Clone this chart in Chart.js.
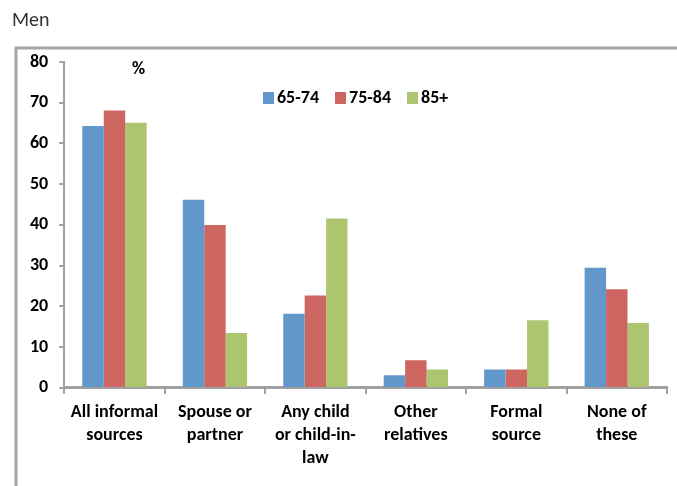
<!DOCTYPE html>
<html>
<head>
<meta charset="utf-8">
<script src="https://cdn.jsdelivr.net/npm/chart.js@4/dist/chart.umd.min.js"></script>
<style>
html,body{margin:0;padding:0;background:#fff;}
#wrap{position:relative;width:677px;height:486px;}
canvas{display:block;}
</style>
</head>
<body>
<div id="wrap"><canvas id="c" width="677" height="486"></canvas></div>
<script>
const categories = [
  ["All informal","sources"],
  ["Spouse or","partner"],
  ["Any child","or child-in-","law"],
  ["Other","relatives"],
  ["Formal","source"],
  ["None of","these"]
];
const seriesNames = ["65-74","75-84","85+"];
const age65_74 = [64.3, 46.2, 18.2, 3.1, 4.5, 29.5];
const age75_84 = [68.1, 40.0, 22.7, 6.8, 4.5, 24.2];
const age85plus = [65.1, 13.5, 41.6, 4.5, 16.6, 15.9];
const colors = ["#6197CB", "#CD6660", "#ADC56E"];
const yTicks = [0,10,20,30,40,50,60,70,80];

const FONT = "Carlito, Lato, 'Liberation Sans', sans-serif";

const decor = {
  id: 'decor',
  beforeDraw(chart) {
    const ctx = chart.ctx;
    ctx.save();
    ctx.strokeStyle = '#A6A6A6';
    ctx.lineWidth = 3;
    ctx.beginPath();
    ctx.moveTo(16, 500);
    ctx.lineTo(16, 48);
    ctx.lineTo(690, 48);
    ctx.stroke();
    ctx.fillStyle = '#333';
    ctx.font = "300 20px " + FONT;
    ctx.textBaseline = 'middle';
    ctx.textAlign = 'left';
    ctx.fillText('Men', 12, 21);
    ctx.restore();
  },
  afterDraw(chart) {
    const ctx = chart.ctx;
    ctx.save();
    ctx.fillStyle = '#000';
    ctx.font = "bold 18px " + FONT;
    ctx.textBaseline = 'middle';
    ctx.textAlign = 'left';
    ctx.fillText('%', 132, 69);
    let x = 263;
    const y = 98;
    chart.data.datasets.forEach((ds) => {
      ctx.fillStyle = ds.backgroundColor;
      ctx.fillRect(x, y - 6, 11, 12);
      ctx.fillStyle = '#000';
      ctx.fillText(ds.label, x + 14, y);
      x += 14 + ctx.measureText(ds.label).width + 16;
    });
    ctx.restore();
  }
};

new Chart(document.getElementById('c'), {
  type: 'bar',
  data: {
    labels: categories,
    datasets: [
      { label: seriesNames[0], data: age65_74, backgroundColor: colors[0] },
      { label: seriesNames[1], data: age75_84, backgroundColor: colors[1] },
      { label: seriesNames[2], data: age85plus, backgroundColor: colors[2] }
    ]
  },
  options: {
    responsive: false,
    animation: false,
    devicePixelRatio: 1,
    layout: { padding: { left: 19, top: 62, right: 10, bottom: 9 } },
    datasets: { bar: { categoryPercentage: 0.64, barPercentage: 1.0, borderWidth: 0 } },
    plugins: { legend: { display: false }, tooltip: { enabled: false } },
    scales: {
      x: {
        grid: { display: true, drawOnChartArea: false, drawTicks: true, tickLength: 6, color: '#A0A0A0', lineWidth: 2, offset: true },
        border: { display: true, color: '#A0A0A0', width: 3 },
        ticks: { color: '#000', font: { family: FONT, size: 18, weight: 'bold', lineHeight: 1.28 }, padding: 7, maxRotation: 0, autoSkip: false }
      },
      y: {
        min: 0, max: 80,
        afterBuildTicks(axis) { axis.ticks = yTicks.map(v => ({ value: v })); },
        grid: { display: true, drawOnChartArea: false, drawTicks: true, tickLength: 5, color: '#A0A0A0', lineWidth: 2 },
        border: { display: true, color: '#A0A0A0', width: 2 },
        ticks: { color: '#000', font: { family: FONT, size: 18, weight: 'bold' }, padding: 11 }
      }
    }
  },
  plugins: [decor]
});
</script>
</body>
</html>
